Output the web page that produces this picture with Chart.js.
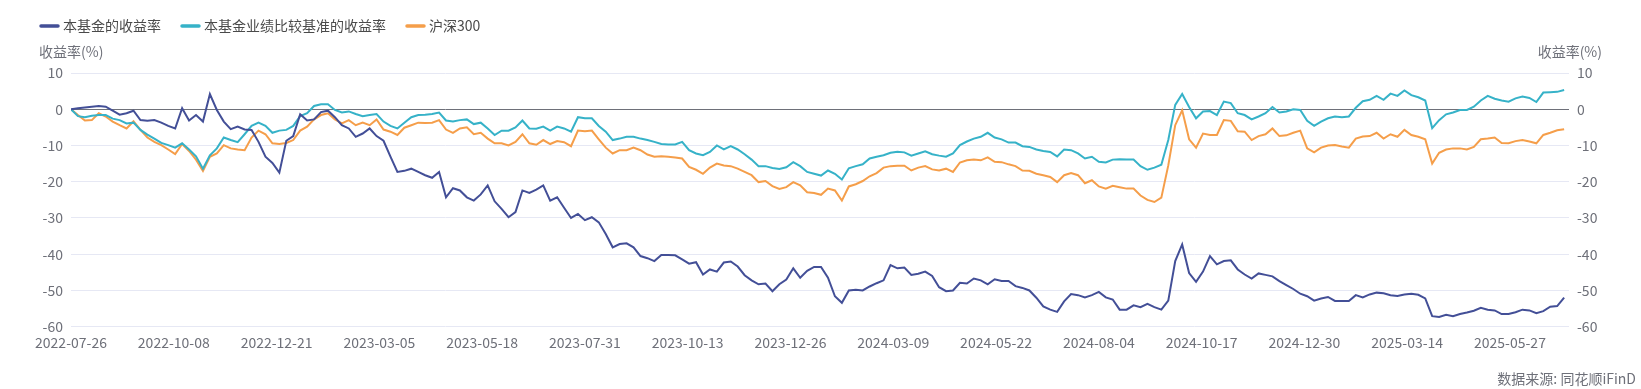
<!DOCTYPE html>
<html><head><meta charset="utf-8">
<script src="https://cdn.jsdelivr.net/npm/chart.js@4.4.1/dist/chart.umd.min.js"></script>
<style>html,body{margin:0;padding:0;background:#fff;}#wrap{width:1641px;height:389px;}</style>
</head><body><div id="wrap"><canvas id="c" width="1641" height="389"></canvas></div>
<script>
// ---- data ----
const startDate = '2022-07-26';
const stepDays = 5; // sampling interval of the series (calendar days)
const xTickLabels = ['2022-07-26','2022-10-08','2022-12-21','2023-03-05','2023-05-18','2023-07-31','2023-10-13','2023-12-26','2024-03-09','2024-05-22','2024-08-04','2024-10-17','2024-12-30','2025-03-14','2025-05-27'];
const yTicks = [10, 0, -10, -20, -30, -40, -50, -60];
const seriesNames = ['本基金的收益率','本基金业绩比较基准的收益率','沪深300'];
const axisTitle = '收益率(%)';
const sourceText = '数据来源: 同花顺iFinD';

const fundReturn = [
 0,0.3,0.5,0.7,0.9,0.7,-0.4,-1.5,-1.1,-0.4,-3.0,-3.2,-3.0,-3.7,-4.6,-5.3,0.3,-3.1,-1.6,-3.4,4.2,-0.2,-3.4,-5.5,-4.8,-5.6,-5.7,-9.0,-13.1,-14.8,
 -17.5,-8.7,-7.4,-1.4,-3.1,-2.8,-0.8,-0.4,-2.2,-4.4,-5.3,-7.6,-6.7,-5.3,-7.4,-8.7,-13.1,-17.3,-17.0,-16.4,-17.3,-18.2,-18.9,-17.3,-24.3,-21.8,-22.4,-24.3,-25.2,-23.5,
 -21.0,-25.4,-27.5,-29.8,-28.4,-22.4,-23.1,-22.2,-21.0,-25.2,-24.3,-27.2,-30.0,-28.9,-30.6,-29.8,-31.2,-34.4,-38.1,-37.2,-37.0,-38.1,-40.5,-41.1,-41.9,-40.2,-40.2,-40.3,-41.4,-42.6,
 -42.2,-45.6,-44.2,-44.8,-42.3,-42.0,-43.4,-45.8,-47.2,-48.3,-48.1,-50.2,-48.3,-47.0,-43.9,-46.5,-44.6,-43.5,-43.5,-46.5,-51.6,-53.4,-50.0,-49.8,-50.0,-48.9,-48.0,-47.2,-43.0,-43.9,
 -43.7,-45.7,-45.4,-44.8,-46.0,-49.1,-50.2,-50.0,-47.9,-48.1,-46.7,-47.2,-48.3,-46.9,-47.4,-47.4,-48.8,-49.3,-50.0,-52.0,-54.4,-55.3,-55.9,-53.0,-51.0,-51.3,-51.9,-51.3,-50.4,-51.9,
 -52.5,-55.3,-55.3,-54.1,-54.6,-53.7,-54.6,-55.3,-52.8,-41.9,-37.3,-45.2,-47.6,-44.8,-40.5,-42.8,-41.9,-41.7,-44.2,-45.6,-46.7,-45.3,-45.7,-46.1,-47.4,-48.5,-49.6,-50.9,-51.6,-52.8,
 -52.2,-51.8,-52.9,-52.9,-52.9,-51.3,-51.9,-51.1,-50.6,-50.8,-51.3,-51.5,-51.1,-50.9,-51.2,-52.2,-57.1,-57.3,-56.7,-57.1,-56.5,-56.1,-55.6,-54.8,-55.3,-55.5,-56.5,-56.5,-56.0,-55.3,-55.5,-56.3,-55.7,-54.5,-54.3,-52.0
];
const benchmarkReturn = [
 0,-1.9,-2.2,-1.8,-1.6,-1.6,-2.6,-3.0,-3.9,-3.7,-5.7,-7.0,-8.1,-9.3,-9.9,-10.6,-9.4,-11.1,-13.0,-16.4,-12.7,-10.8,-7.8,-8.5,-9.1,-6.9,-4.6,-3.7,-4.6,-6.5,
 -5.9,-5.7,-4.6,-1.9,-1.1,0.9,1.4,1.4,-0.2,-0.9,-0.6,-1.3,-1.9,-1.6,-1.3,-3.4,-4.6,-5.3,-3.7,-2.2,-1.6,-1.5,-1.3,-0.9,-3.1,-3.4,-3.0,-2.8,-4.1,-3.7,
 -5.3,-7.1,-5.9,-5.9,-5.0,-3.1,-5.3,-5.4,-4.8,-5.9,-4.8,-5.3,-6.2,-2.2,-2.5,-2.5,-4.6,-6.2,-8.5,-8.1,-7.6,-7.6,-8.1,-8.5,-9.0,-9.6,-9.7,-9.7,-9.0,-11.3,
 -12.2,-12.7,-11.8,-10.0,-11.1,-10.2,-11.1,-12.4,-13.9,-15.7,-15.7,-16.2,-16.5,-16.0,-14.6,-15.7,-17.3,-17.8,-18.3,-16.9,-17.8,-19.4,-16.3,-15.7,-15.2,-13.6,-13.1,-12.7,-12.0,-11.7,
 -11.9,-12.8,-12.2,-11.6,-12.4,-12.8,-13.1,-12.2,-9.9,-8.9,-8.1,-7.6,-6.5,-7.8,-8.3,-9.2,-9.2,-10.2,-10.4,-11.1,-11.5,-11.8,-13.0,-11.1,-11.3,-12.2,-13.6,-13.1,-14.5,-14.7,
 -13.9,-13.8,-13.9,-13.9,-15.7,-16.7,-16.1,-15.3,-8.5,1.2,4.2,0.6,-2.5,-0.6,-0.5,-1.6,2.1,1.7,-1.1,-1.6,-2.8,-2.0,-1.1,0.6,-0.9,-0.6,0,-0.2,-3.2,-4.6,
 -3.4,-2.5,-2.0,-2.2,-2.0,0.4,2.2,2.6,3.7,2.6,4.3,3.7,5.2,3.9,3.3,2.4,-5.2,-3.0,-1.4,-0.9,-0.2,-0.2,0.7,2.4,3.7,2.9,2.4,2.1,3.0,3.5,3.1,2.0,4.6,4.7,4.8,5.3
];
const csi300Return = [
 0,-1.6,-3.1,-3.0,-1.1,-2.0,-3.4,-4.4,-5.3,-3.3,-5.7,-7.8,-9.0,-9.9,-11.1,-12.4,-9.6,-11.5,-13.9,-17.0,-13.1,-12.2,-9.9,-10.8,-11.1,-11.3,-7.8,-5.9,-6.9,-9.4,
 -9.6,-9.3,-8.5,-5.9,-4.8,-2.8,-1.6,-1.1,-2.8,-3.9,-3.0,-4.4,-3.7,-4.4,-2.8,-5.6,-6.2,-7.1,-5.1,-4.4,-3.7,-3.8,-3.7,-3.0,-5.6,-6.5,-5.3,-5.0,-6.9,-6.5,
 -8.1,-9.4,-9.4,-10.0,-9.0,-6.9,-9.4,-9.8,-8.5,-9.6,-8.8,-9.1,-10.2,-5.9,-6.1,-5.9,-8.3,-10.6,-12.2,-11.3,-11.3,-10.6,-11.3,-12.5,-13.1,-13.0,-13.1,-13.3,-13.6,-15.9,
 -16.7,-17.8,-16.1,-15.0,-15.5,-15.7,-16.4,-17.3,-18.2,-20.1,-19.8,-21.2,-22.0,-21.5,-20.1,-21.0,-22.9,-23.1,-23.6,-21.9,-22.4,-25.2,-21.3,-20.7,-19.8,-18.5,-17.6,-16.1,-15.7,-15.6,
 -15.6,-16.9,-16.1,-15.7,-16.6,-16.9,-16.4,-17.3,-14.7,-14.1,-13.9,-14.1,-13.3,-14.5,-14.6,-15.2,-15.7,-16.9,-17.0,-17.8,-18.2,-18.7,-20.1,-18.2,-17.6,-18.2,-20.4,-19.6,-21.3,-21.9,
 -21.1,-21.5,-21.9,-21.9,-23.8,-25.0,-25.6,-24.4,-15.5,-4.4,-0.3,-8.3,-10.6,-6.7,-7.1,-7.1,-3.0,-3.2,-6.1,-6.2,-8.5,-7.4,-6.9,-5.3,-7.4,-7.2,-6.5,-5.9,-10.8,-11.9,
 -10.6,-10.0,-9.9,-10.3,-10.6,-8.1,-7.5,-7.4,-6.5,-8.1,-6.9,-7.6,-5.7,-7.1,-7.6,-8.3,-15.0,-12.0,-11.1,-10.8,-10.8,-11.1,-10.4,-8.3,-8.1,-7.8,-9.3,-9.4,-8.8,-8.5,-8.9,-9.4,-7.1,-6.5,-5.8,-5.5
];

// ---- helpers ----
const DAY = 86400000;
const t0 = Date.parse(startDate + 'T00:00:00Z');
const dayOf = s => Math.round((Date.parse(s + 'T00:00:00Z') - t0) / DAY);
const dateOf = d => new Date(t0 + d * DAY).toISOString().slice(0, 10);
const sampleDates = fundReturn.map((_, i) => dateOf(i * stepDays));
const toPts = arr => arr.map((v, i) => ({x: dayOf(sampleDates[i]), y: v}));
const tickDays = xTickLabels.map(dayOf);
const labelByDay = {}; xTickLabels.forEach(s => labelByDay[dayOf(s)] = s);

const FONT = '"Noto Sans CJK SC", "Noto Sans", sans-serif';
const TXT = '#6E7079';

const decor = {
  id: 'decor',
  afterDraw(chart) {
    const ctx = chart.ctx; ctx.save();
    ctx.font = '14px ' + FONT;
    ctx.textBaseline = 'middle';
    let x = 40; const y = 26;
    chart.data.datasets.forEach(ds => {
      ctx.strokeStyle = ds.borderColor; ctx.lineWidth = 3.5; ctx.lineCap = 'round';
      ctx.beginPath(); ctx.moveTo(x + 1, y); ctx.lineTo(x + 18, y); ctx.stroke();
      x += 23;
      ctx.fillStyle = '#4a4a4a'; ctx.textAlign = 'left'; ctx.fillText(ds.label, x, y);
      x += ctx.measureText(ds.label).width + 20;
    });
    ctx.fillStyle = TXT; ctx.textAlign = 'left';
    ctx.fillText(axisTitle, 39, 52);
    ctx.textAlign = 'right';
    ctx.fillText(axisTitle, 1602, 52);
    ctx.fillText(sourceText, 1636, 379);
    ctx.restore();
  }
};

const yCommon = {
  type: 'linear', min: -60, max: 10,
  afterBuildTicks: s => { s.ticks = yTicks.map(v => ({value: v})); },
  ticks: {color: TXT, font: {size: 14, family: FONT}, padding: 8},
  border: {display: false}
};

new Chart(document.getElementById('c'), {
  type: 'line',
  data: {
    datasets: [
      {label: seriesNames[0], data: toPts(fundReturn), borderColor: '#434F97', yAxisID: 'y'},
      {label: seriesNames[1], data: toPts(benchmarkReturn), borderColor: '#36B2C8', yAxisID: 'y'},
      {label: seriesNames[2], data: toPts(csi300Return), borderColor: '#F59E4A', yAxisID: 'y'}
    ]
  },
  options: {
    responsive: false, animation: false, devicePixelRatio: 1,
    layout: {padding: {top: 73, left: 0, right: 0, bottom: 0}},
    elements: {point: {radius: 0}, line: {borderWidth: 2, tension: 0}},
    plugins: {legend: {display: false}, tooltip: {enabled: false}},
    scales: {
      x: {
        type: 'linear', min: 0, max: 1078.5,
        afterBuildTicks: s => { s.ticks = tickDays.map(v => ({value: v})); },
        afterFit: s => { s.height = 62.3; },
        grid: {display: false, drawTicks: false},
        border: {display: false},
        ticks: {autoSkip: false, maxRotation: 0, color: TXT, font: {size: 14, family: FONT}, padding: 8,
                callback: v => labelByDay[v] || ''}
      },
      y: Object.assign({}, yCommon, {
        position: 'left',
        afterFit: s => { s.width = 71; },
        grid: {drawTicks: false, lineWidth: 1, color: c => c.tick && c.tick.value === 0 ? '#6E7079' : '#E6E8F4'}
      }),
      y2: Object.assign({}, yCommon, {
        position: 'right',
        afterFit: s => { s.width = 72; },
        grid: {display: false, drawTicks: false}
      })
    }
  },
  plugins: [decor]
});
</script></body></html>
